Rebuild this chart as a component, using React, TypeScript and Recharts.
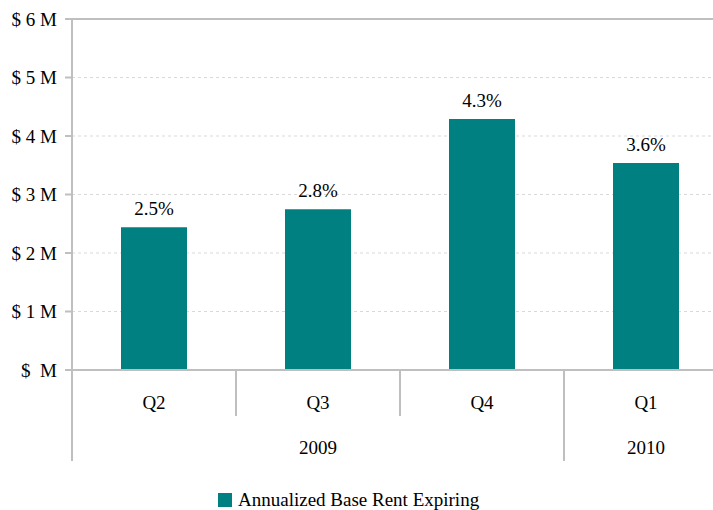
import React from 'react';
import {
  BarChart,
  Bar,
  XAxis,
  YAxis,
  CartesianGrid,
  ReferenceLine,
  Legend,
} from 'recharts';

const quarters = ['Q2', 'Q3', 'Q4', 'Q1'];
const years = ['2009', '2009', '2009', '2010'];
const rentExpiring = [2.44, 2.75, 4.29, 3.54]; // $ millions
const pctLabels = ['2.5%', '2.8%', '4.3%', '3.6%'];
const yTicks = [0, 1, 2, 3, 4, 5, 6];

const data = quarters.map((q, i) => ({
  quarter: q,
  year: years[i],
  rent: rentExpiring[i],
  pct: pctLabels[i],
}));

const FONT = '"Liberation Serif", "Times New Roman", serif';
const AXIS = '#bfbfbf';
const TEAL = '#008080';

const CHART_W = 740;
const CHART_H = 510;
const MARGIN = { top: 19, right: 12, left: 0, bottom: 0 };
const Y_W = 72;
const QTR_H = 46;
const YEAR_H = 45;
const BAND = (CHART_W - MARGIN.left - MARGIN.right - Y_W) / data.length;

const QuarterTick = ({ x, y, payload, index }: any) => (
  <g>
    {index > 0 && (
      <line x1={x - BAND / 2} x2={x - BAND / 2} y1={y} y2={y + QTR_H} stroke={AXIS} strokeWidth={2} />
    )}
    <text x={x} y={y + 39} textAnchor="middle" style={{ fontFamily: FONT }} fontSize={19} fill="#000">
      {payload.value}
    </text>
  </g>
);

const YearTick = ({ x, y, index }: any) => {
  if (index > 0 && years[index] === years[index - 1]) return null;
  let n = 1;
  while (index + n < years.length && years[index + n] === years[index]) n++;
  const left = x - BAND / 2;
  const cx = x + ((n - 1) / 2) * BAND;
  return (
    <g>
      <line x1={left} x2={left} y1={y - QTR_H} y2={y + YEAR_H} stroke={AXIS} strokeWidth={2} />
      <text x={cx} y={y + 38} textAnchor="middle" style={{ fontFamily: FONT }} fontSize={19} fill="#000">
        {years[index]}
      </text>
    </g>
  );
};

// percentage label sitting 12px above each bar
const renderPctLabel = (props: any) => {
  const { x, y, width, index } = props;
  return (
    <text
      key={`pct-${index}`}
      x={Number(x) + Number(width) / 2}
      y={Number(y) - 12}
      textAnchor="middle"
      style={{ fontFamily: FONT }}
      fontSize={19}
      fill="#000"
    >
      {pctLabels[index]}
    </text>
  );
};

const LegendContent = ({ payload }: any) => (
  <svg width={CHART_W - MARGIN.left - MARGIN.right} height={49} style={{ display: 'block' }}>
    {(payload || []).map((p: any) => (
      <g key={p.value}>
        <rect x={218} y={32} width={14} height={14} fill={p.color} />
        <text x={238} y={45} style={{ fontFamily: FONT }} fontSize={19} fill="#000">
          {p.value}
        </text>
      </g>
    ))}
  </svg>
);

export default function App() {
  return (
    <div
      style={{
        position: 'absolute',
        left: 0,
        top: 0,
        width: 713,
        height: 510,
        overflow: 'hidden',
        background: '#fff',
        fontFamily: FONT,
      }}
    >
      <BarChart width={CHART_W} height={CHART_H} data={data} margin={MARGIN}>
        <CartesianGrid vertical={false} stroke="#d9d9d9" strokeDasharray="3 3" />
        <YAxis
          width={Y_W}
          domain={[0, 6]}
          ticks={yTicks}
          interval={0}
          tickFormatter={(v) => (v === 0 ? '$\u00a0\u00a0M' : `$ ${v} M`)}
          axisLine={{ stroke: AXIS, strokeWidth: 2 }}
          tickLine={{ stroke: AXIS, strokeWidth: 2 }}
          tickSize={7}
          tickMargin={8}
          tick={{ fill: '#000', fontSize: 19, fontFamily: FONT }}
        />
        <XAxis
          dataKey="quarter"
          height={QTR_H}
          interval={0}
          tickSize={0}
          tickMargin={0}
          tickLine={false}
          axisLine={{ stroke: AXIS, strokeWidth: 2 }}
          tick={<QuarterTick />}
        />
        <XAxis
          xAxisId="year"
          dataKey="year"
          height={YEAR_H}
          interval={0}
          tickSize={0}
          tickMargin={0}
          tickLine={false}
          axisLine={false}
          tick={<YearTick />}
        />
        <ReferenceLine y={6} stroke={AXIS} strokeWidth={2} />
        <Legend verticalAlign="bottom" content={<LegendContent />} />
        <Bar
          dataKey="rent"
          name="Annualized Base Rent Expiring"
          fill={TEAL}
          barSize={66}
          isAnimationActive={false}
          label={renderPctLabel}
        />
      </BarChart>
    </div>
  );
}
